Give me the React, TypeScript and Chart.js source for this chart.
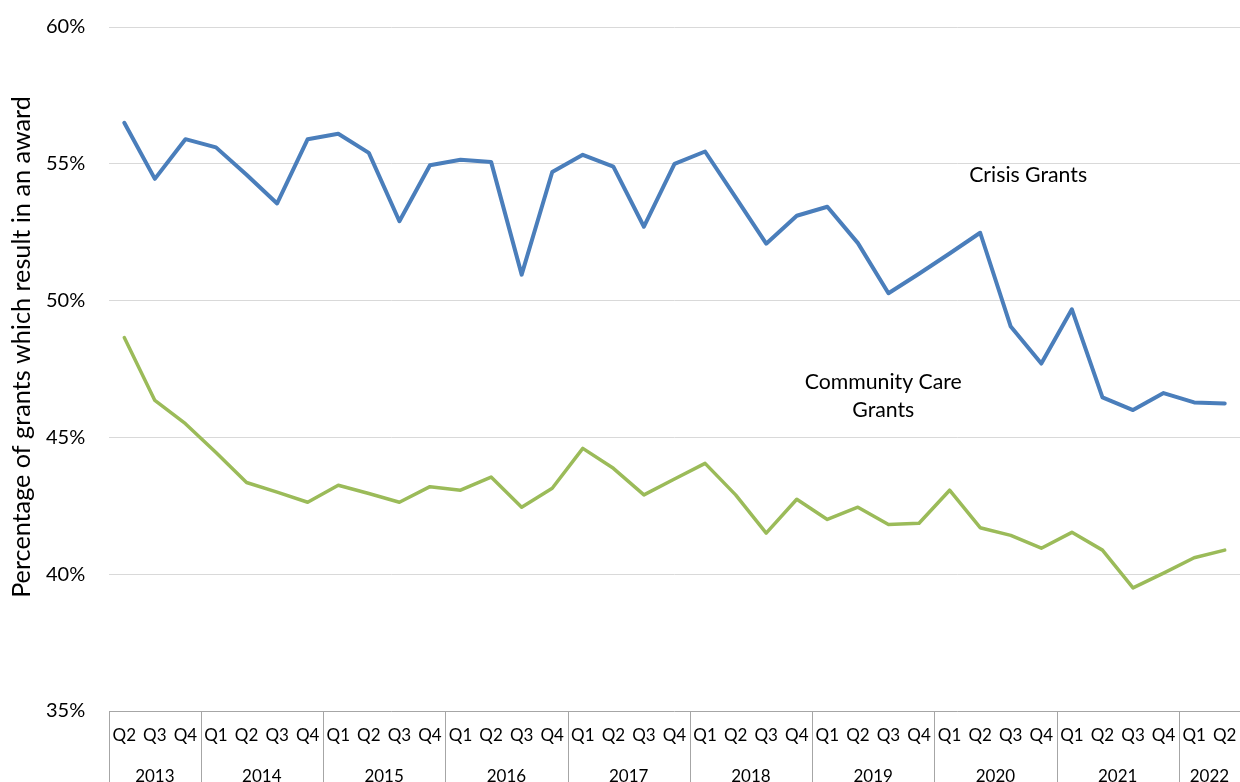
import { useEffect, useRef } from "react";
import { Chart, registerables } from "chart.js";

Chart.register(...registerables);

// Quarter grouping along the time axis
const years = ["2013", "2014", "2015", "2016", "2017", "2018", "2019", "2020", "2021", "2022"];
const yearQuarters = [
  ["Q2", "Q3", "Q4"],
  ["Q1", "Q2", "Q3", "Q4"],
  ["Q1", "Q2", "Q3", "Q4"],
  ["Q1", "Q2", "Q3", "Q4"],
  ["Q1", "Q2", "Q3", "Q4"],
  ["Q1", "Q2", "Q3", "Q4"],
  ["Q1", "Q2", "Q3", "Q4"],
  ["Q1", "Q2", "Q3", "Q4"],
  ["Q1", "Q2", "Q3", "Q4"],
  ["Q1", "Q2"],
];

// Share of applications resulting in an award (%)
const crisisGrants = [
  56.5, 54.45, 55.9,
  55.6, 54.6, 53.55, 55.9,
  56.1, 55.4, 52.9, 54.95,
  55.15, 55.07, 50.95, 54.7,
  55.33, 54.9, 52.7, 55.0,
  55.45, 53.77, 52.08, 53.1,
  53.43, 52.1, 50.27, 50.98,
  51.72, 52.48, 49.05, 47.7,
  49.68, 46.46, 46.0, 46.62,
  46.28, 46.24,
];
const communityCareGrants = [
  48.65, 46.35, 45.5,
  44.45, 43.35, 43.0, 42.63,
  43.25, 42.95, 42.63, 43.2,
  43.07, 43.55, 42.45, 43.14,
  44.6, 43.87, 42.9, 43.48,
  44.05, 42.9, 41.5, 42.74,
  42.0, 42.45, 41.82, 41.86,
  43.07, 41.7, 41.42, 40.95,
  41.53, 40.88, 39.5, 40.04,
  40.6, 40.88,
];

const yMin = 35;
const yMax = 60;
const yStep = 5;
const yTitle = "Percentage of grants which result in an award";

// Series labels placed inside the plot (category index, value)
const seriesLabels = [
  { lines: ["Crisis Grants"], index: 29.57, value: 54.6 },
  { lines: ["Community Care", "Grants"], index: 24.83, value: 47.02 },
];

const FONT = "Lato, 'Open Sans', sans-serif";

const labels: string[] = [];
yearQuarters.forEach((qs, i) => qs.forEach((q) => labels.push(`${q} ${years[i]}`)));

// font size at which `text` spans `width` pixels
const fitSize = (ctx: CanvasRenderingContext2D, text: string, width: number) => {
  ctx.font = `20px ${FONT}`;
  return (20 * width) / ctx.measureText(text).width;
};

const quarterAxisPlugin = {
  id: "quarterAxis",
  afterDraw(chart: any) {
    const { ctx, chartArea, scales } = chart;
    const x = scales.x;
    const y = scales.y;
    const step = x.getPixelForValue(1) - x.getPixelForValue(0);
    const top = chartArea.bottom;
    const bottom = chart.height;
    ctx.save();

    // category frame
    ctx.strokeStyle = "#a6a6a6";
    ctx.lineWidth = 1;
    ctx.beginPath();
    ctx.moveTo(chartArea.left, Math.round(top) + 0.5);
    ctx.lineTo(chartArea.right, Math.round(top) + 0.5);
    let idx = 0;
    const bounds: number[] = [];
    yearQuarters.forEach((qs) => {
      bounds.push(Math.round(x.getPixelForValue(idx) - step / 2) + 0.5);
      idx += qs.length;
    });
    bounds.push(Math.round(x.getPixelForValue(idx - 1) + step / 2) + 0.5);
    bounds.forEach((b) => {
      ctx.moveTo(b, top);
      ctx.lineTo(b, bottom);
    });
    ctx.stroke();

    // quarter and year labels
    ctx.fillStyle = "#000";
    ctx.textAlign = "center";
    ctx.textBaseline = "middle";
    ctx.font = `17px ${FONT}`;
    idx = 0;
    yearQuarters.forEach((qs, i) => {
      qs.forEach((q, j) => {
        ctx.fillText(q, x.getPixelForValue(idx + j), top + 25);
      });
      const cx = (x.getPixelForValue(idx) + x.getPixelForValue(idx + qs.length - 1)) / 2;
      ctx.fillText(years[i], cx, top + 66);
      idx += qs.length;
    });

    // in-plot series labels
    const labelSize = fitSize(ctx, "Crisis Grants", 118);
    ctx.font = `${labelSize}px ${FONT}`;
    seriesLabels.forEach((s) => {
      const px = x.getPixelForValue(s.index);
      const py = y.getPixelForValue(s.value);
      s.lines.forEach((line, k) => ctx.fillText(line, px, py + k * 28));
    });

    // y axis title
    const titleSize = fitSize(ctx, yTitle, 502);
    ctx.translate(22, (chartArea.top + chartArea.bottom) / 2 - 22);
    ctx.rotate(-Math.PI / 2);
    ctx.font = `${titleSize}px ${FONT}`;
    ctx.fillText(yTitle, 0, 0);
    ctx.restore();
  },
};

export default function App() {
  const canvasRef = useRef<HTMLCanvasElement | null>(null);

  useEffect(() => {
    document.body.style.margin = "0";
    const canvas = canvasRef.current;
    if (!canvas) return;
    const chart = new Chart(canvas, {
      type: "line",
      data: {
        labels,
        datasets: [
          {
            label: "Crisis Grants",
            data: crisisGrants,
            borderColor: "#4a7ebb",
            borderWidth: 4,
            pointRadius: 0,
            tension: 0,
            borderJoinStyle: "round",
            borderCapStyle: "round",
          },
          {
            label: "Community Care Grants",
            data: communityCareGrants,
            borderColor: "#9bbb59",
            borderWidth: 3.5,
            pointRadius: 0,
            tension: 0,
            borderJoinStyle: "round",
            borderCapStyle: "round",
          },
        ],
      },
      options: {
        responsive: false,
        animation: false,
        devicePixelRatio: 1,
        layout: { padding: { top: 27, right: 0, left: 46, bottom: 0 } },
        plugins: {
          legend: { display: false },
          tooltip: { enabled: false },
          title: { display: false },
        },
        scales: {
          x: {
            type: "category",
            offset: true,
            grid: { display: false },
            border: { display: false },
            ticks: { display: false },
            afterFit: (scale: any) => {
              scale.height = 71;
            },
          },
          y: {
            min: yMin,
            max: yMax,
            ticks: {
              stepSize: yStep,
              padding: 0,
              crossAlign: "far",
              color: "#000",
              font: { family: FONT, size: 20 },
              callback: (v: any) => `${v}%`,
            },
            grid: {
              drawTicks: false,
              color: (c: any) => (c.tick && c.tick.value === yMin ? "rgba(0,0,0,0)" : "#d9d9d9"),
              lineWidth: 1,
            },
            border: { display: false },
            afterFit: (scale: any) => {
              scale.width = 63;
            },
          },
        },
      },
      plugins: [quarterAxisPlugin],
    });
    return () => chart.destroy();
  }, []);

  return (
    <div style={{ width: 1240, height: 782, background: "#fff" }}>
      <canvas ref={canvasRef} width={1240} height={782} style={{ display: "block" }} />
    </div>
  );
}
